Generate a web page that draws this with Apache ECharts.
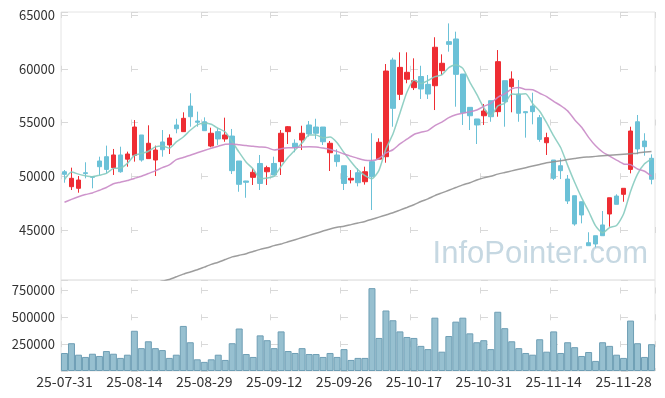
<!DOCTYPE html>
<html>
<head>
<meta charset="utf-8">
<script src="https://cdn.jsdelivr.net/npm/echarts@6/dist/echarts.min.js"></script>
<style>
  html, body { margin: 0; padding: 0; background: #fff; }
  #chart { width: 665px; height: 398px; }
</style>
</head>
<body>
<div id="chart"></div>
<script>
// trading days
var dates = [
  '25-07-31', '25-08-01', '25-08-04', '25-08-05', '25-08-06', '25-08-07', '25-08-08', '25-08-11', '25-08-12', '25-08-13',
  '25-08-14', '25-08-18', '25-08-19', '25-08-20', '25-08-21', '25-08-22', '25-08-25', '25-08-26', '25-08-27', '25-08-28',
  '25-08-29', '25-09-01', '25-09-02', '25-09-03', '25-09-04', '25-09-05', '25-09-08', '25-09-09', '25-09-10', '25-09-11',
  '25-09-12', '25-09-15', '25-09-16', '25-09-17', '25-09-18', '25-09-19', '25-09-22', '25-09-23', '25-09-24', '25-09-25',
  '25-09-26', '25-09-29', '25-09-30', '25-10-01', '25-10-02', '25-10-10', '25-10-13', '25-10-14', '25-10-15', '25-10-16',
  '25-10-17', '25-10-20', '25-10-21', '25-10-22', '25-10-23', '25-10-24', '25-10-27', '25-10-28', '25-10-29', '25-10-30',
  '25-10-31', '25-11-03', '25-11-04', '25-11-05', '25-11-06', '25-11-07', '25-11-10', '25-11-11', '25-11-12', '25-11-13',
  '25-11-14', '25-11-17', '25-11-18', '25-11-19', '25-11-20', '25-11-21', '25-11-24', '25-11-25', '25-11-26', '25-11-27',
  '25-11-28', '25-12-01', '25-12-02', '25-12-03', '25-12-04'
];

var opens = [
  50420, 49030, 48880, 50330, 49980, 51420, 51820, 50800, 51980, 51590,
  51950, 53840, 51640, 51510, 53190, 52910, 54770, 54150, 56530, 55140,
  55070, 52810, 54150, 53470, 53740, 51420, 49560, 49900, 51190, 50420,
  51190, 51360, 54150, 53070, 53370, 54770, 54580, 54580, 52190, 51980,
  50980, 49650, 50330, 49490, 51360, 51590, 51820, 60810, 57620, 59020,
  58240, 59280, 58550, 58420, 59820, 62520, 62770, 59510, 56410, 55330,
  55630, 57030, 56010, 58890, 58330, 57650, 56010, 56530, 55450, 53120,
  51510, 50980, 49740, 48190, 47630, 43820, 44470, 45470, 46490, 48160,
  48320, 50640, 55070, 53280, 51670
];
var closes = [
  50180, 49810, 49650, 50250, 49900, 50890, 50640, 51980, 50420, 52070,
  54580, 51510, 53070, 52440, 52470, 53560, 54420, 55390, 55540, 55020,
  54240, 54000, 53470, 53840, 50520, 49250, 49440, 50370, 49330, 50800,
  50120, 54000, 54610, 52700, 54000, 53930, 54000, 53210, 53070, 51360,
  49330, 49810, 49400, 50420, 49960, 53160, 59790, 56320, 60130, 59670,
  58890, 58120, 57650, 62000, 60510, 62270, 59480, 55910, 55630, 54770,
  56070, 55540, 60660, 56930, 59050, 55860, 55910, 56010, 53430, 53590,
  49810, 50520, 47700, 45560, 46400, 43540, 43700, 44470, 48000, 47390,
  48880, 54210, 52540, 52750, 49720
];
var lows = [
  49400, 48720, 48470, 49810, 48880, 50120, 50270, 50120, 50330, 50890,
  51360, 51360, 51640, 50020, 51820, 52070, 54000, 54150, 54610, 54610,
  54210, 52700, 52910, 53210, 50210, 48560, 48000, 49190, 48720, 49190,
  50120, 50120, 53000, 52230, 52440, 53680, 53470, 52910, 50490, 50890,
  48720, 49340, 49060, 49220, 46860, 51590, 51260, 54610, 57090, 58650,
  58020, 57190, 57190, 56160, 59420, 61590, 56470, 54770, 54300, 53000,
  54770, 55070, 55540, 54610, 55950, 55070, 53590, 54830, 53210, 51980,
  49650, 49740, 47420, 45400, 45620, 43540, 43390, 44470, 45310, 47390,
  47630, 50270, 52040, 51910, 49250
];
var highs = [
  50580, 50800, 50020, 51300, 50020, 51820, 52850, 52540, 52750, 52290,
  55230, 53840, 54740, 52850, 54300, 53900, 55350, 55950, 57720, 56010,
  55480, 54520, 54460, 55450, 54400, 51420, 49580, 50740, 51980, 50980,
  51820, 54300, 54670, 53430, 54700, 55140, 55350, 54580, 53280, 52510,
  50980, 50580, 50740, 50890, 54000, 53530, 60440, 61030, 61530, 61530,
  60970, 60280, 59420, 62930, 61340, 64220, 63450, 59510, 56410, 55330,
  56720, 57030, 61740, 58890, 59760, 58950, 56010, 57770, 55700, 54050,
  51510, 51670, 50120, 48190, 47630, 44790, 44470, 46770, 48000, 48320,
  48880, 54610, 55700, 54000, 52040
];

var ma5 = [
  49700, 50400, 50200, 50050, 49958, 50100, 50266, 50732, 50766, 51200,
  51938, 52112, 52330, 52734, 52814, 52610, 53192, 53656, 54276, 54786,
  54922, 54838, 54454, 54114, 53214, 52216, 51304, 50684, 49782, 49838,
  50012, 50924, 51772, 52446, 53086, 53848, 53848, 53568, 53642, 53114,
  52194, 51356, 50594, 50064, 49784, 50550, 52546, 53930, 55872, 57814,
  58960, 58626, 58892, 59266, 59434, 60110, 60382, 60034, 58760, 57612,
  56372, 55584, 56534, 56794, 57650, 57608, 57682, 56752, 56052, 54962,
  53752, 52672, 51010, 49436, 47998, 46744, 45380, 44734, 45222, 45420,
  46488, 48590, 50204, 51154, 51620
];
var ma20 = [
  47580, 47850, 48100, 48300, 48450, 48700, 48950, 49300, 49450, 49600,
  49800, 50000, 50250, 50500, 50800, 51050, 51550, 51750, 51950, 52190,
  52393, 52602, 52793, 52973, 53004, 52922, 52862, 52781, 52727, 52663,
  52440, 52565, 52642, 52655, 52731, 52750, 52729, 52620, 52496, 52313,
  52068, 51858, 51655, 51484, 51456, 51651, 52169, 52466, 53006, 53450,
  53888, 54094, 54246, 54711, 55037, 55454, 55728, 55863, 55991, 56161,
  56498, 56785, 57348, 57673, 58128, 58263, 58069, 58054, 57719, 57415,
  56961, 56581, 56083, 55261, 54556, 53619, 52830, 52258, 51877, 51508,
  51148, 51082, 50676, 50467, 50000
];
var ma120 = [
  36800, 37050, 37300, 37550, 37800, 38050, 38300, 38550, 38800, 39050,
  39300, 39550, 39800, 40050, 40250, 40400, 40650, 40900, 41100, 41300,
  41550, 41800, 42000, 42250, 42500, 42650, 42800, 43000, 43200, 43350,
  43550, 43700, 43900, 44100, 44300, 44500, 44700, 44900, 45100, 45250,
  45350, 45500, 45650, 45800, 46000, 46200, 46400, 46600, 46850, 47100,
  47350, 47650, 47900, 48200, 48450, 48700, 48950, 49200, 49400, 49650,
  49850, 50000, 50200, 50350, 50500, 50650, 50800, 50950, 51100, 51250,
  51350, 51450, 51550, 51650, 51750, 51800, 51850, 51900, 51950, 52000,
  52050, 52100, 52150, 52250, 52300
];

var volumes = [
  167600, 259000, 152000, 131000, 161000, 140000, 186000, 161000, 122000, 152000,
  375000, 213000, 277000, 213000, 195000, 122000, 152000, 420000, 268000, 109000,
  85000, 109000, 152000, 103000, 259000, 396000, 158000, 131000, 332000, 287000,
  213000, 369000, 186000, 168000, 213000, 158000, 158000, 131000, 168000, 131000,
  204000, 103000, 122000, 122000, 772000, 308000, 564000, 473000, 369000, 317000,
  308000, 234000, 204000, 497000, 180000, 326000, 460000, 497000, 351000, 268000,
  287000, 204000, 552000, 399000, 277000, 213000, 168000, 152000, 296000, 180000,
  369000, 168000, 268000, 222000, 140000, 177000, 94000, 268000, 234000, 152000,
  122000, 470000, 259000, 131000, 250000
];

var labelStyle = {
  color: '#333',
  fontSize: 13,
  fontFamily: 'Noto Sans CJK KR, Noto Sans, sans-serif',
};
var crossColor = '#d9d9d9';

// plain numbers, no thousands separator
function plainNumber(v) {
  return String(v);
}

var candleData = dates.map(function (d, i) {
  return [opens[i], closes[i], lows[i], highs[i]];
});

var chart = echarts.init(document.getElementById('chart'), null, { renderer: 'canvas' });

chart.setOption({
  animation: false,
  grid: [
    { left: 61, right: 10, top: 12, height: 268, show: true, borderColor: '#e4e4e4', borderWidth: 1 },
    { left: 61, right: 10, top: 280, height: 91, show: true, borderColor: '#e4e4e4', borderWidth: 1 },
  ],
  xAxis: [
    {
      type: 'category',
      gridIndex: 0,
      data: dates,
      boundaryGap: true,
      axisLine: { show: false },
      axisTick: { show: false, alignWithLabel: true, interval: 9 },
      axisLabel: { show: false, interval: 9 },
      splitLine: {
        show: true,
        interval: 9,
        // only short dashes at the crossings are visible
        lineStyle: { color: crossColor, width: 1, type: [6, 47.75] },
      },
    },
    {
      type: 'category',
      gridIndex: 1,
      data: dates,
      boundaryGap: true,
      axisLine: { show: false },
      axisTick: { show: false, alignWithLabel: true, interval: 9 },
      axisLabel: Object.assign({ interval: 9, margin: 4 }, labelStyle, { fontSize: 14 }),
      splitLine: {
        show: true,
        interval: 9,
        lineStyle: { color: crossColor, width: 1, type: [6, 20.83], dashOffset: 19.33 },
      },
    },
  ],
  yAxis: [
    {
      type: 'value',
      gridIndex: 0,
      min: 40350,
      max: 65280,
      splitNumber: 5,
      axisLine: { show: false },
      axisTick: { show: false },
      axisLabel: Object.assign({ margin: 6, showMinLabel: false, showMaxLabel: false, formatter: plainNumber }, labelStyle),
      splitLine: {
        show: true,
        lineStyle: { color: crossColor, width: 1, type: [7, 63] },
      },
    },
    {
      type: 'value',
      gridIndex: 1,
      min: 0,
      max: 848000,
      interval: 250000,
      axisLine: { show: false },
      axisTick: { show: false },
      axisLabel: Object.assign({ margin: 6, showMinLabel: false, showMaxLabel: false, formatter: plainNumber }, labelStyle),
      splitLine: {
        show: true,
        lineStyle: { color: crossColor, width: 1, type: [7, 63] },
      },
    },
  ],
  graphic: [{
    type: 'text',
    right: 17,
    top: 239,
    z: 0,
    silent: true,
    style: {
      text: 'InfoPointer.com',
      fill: '#c6d8e2',
      font: 'normal 31px "Liberation Sans", Arial, sans-serif',
    },
  }],
  series: [
    {
      name: 'candle',
      type: 'candlestick',
      xAxisIndex: 0,
      yAxisIndex: 0,
      data: candleData,
      barWidth: 5,
      itemStyle: {
        color: '#ee2d33',
        color0: '#6bc1d7',
        borderColor: '#ee2d33',
        borderColor0: '#6bc1d7',
        borderWidth: 1,
      },
    },
    {
      name: 'MA5',
      type: 'line',
      data: ma5,
      symbol: 'none',
      smooth: 0.2,
      lineStyle: { color: '#86cbbf', width: 1.5, opacity: 0.9 },
    },
    {
      name: 'MA20',
      type: 'line',
      data: ma20,
      symbol: 'none',
      smooth: 0.2,
      lineStyle: { color: '#c98ac6', width: 1.5, opacity: 0.9 },
    },
    {
      name: 'MA120',
      type: 'line',
      data: ma120,
      symbol: 'none',
      smooth: 0.2,
      lineStyle: { color: '#929292', width: 1.5, opacity: 0.9 },
    },
    {
      name: 'volume',
      type: 'bar',
      xAxisIndex: 1,
      yAxisIndex: 1,
      data: volumes,
      barCategoryGap: '0%',
      itemStyle: {
        color: '#97c0d0',
        borderColor: '#6f9fb5',
        borderWidth: 1,
      },
    },
  ],
});
</script>
</body>
</html>
